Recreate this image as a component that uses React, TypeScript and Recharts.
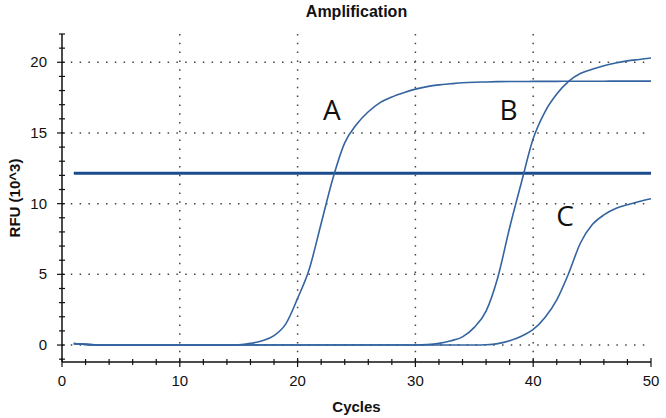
import { LineChart, Line, XAxis, YAxis, CartesianGrid, ReferenceLine, ReferenceDot, Label } from 'recharts';

const cycles = [
  1, 2, 3, 4, 5, 6, 7, 8, 9, 10, 11, 12, 13, 14, 15, 16, 17, 18, 19, 20, 21, 22, 23, 24, 25,
  26, 27, 28, 29, 30, 31, 32, 33, 34, 35, 36, 37, 38, 39, 40, 41, 42, 43, 44, 45, 46, 47, 48, 49, 50,
];

const curveA = [
  0.1, 0.05, 0, 0, 0, 0, 0, 0, 0, 0, 0, 0, 0, 0, 0.02, 0.12, 0.3, 0.66, 1.5, 3.3, 5.4, 8.6, 11.8, 14.3, 15.6,
  16.5, 17.15, 17.55, 17.85, 18.1, 18.28, 18.4, 18.48, 18.55, 18.59, 18.61, 18.63, 18.64, 18.64, 18.65, 18.65, 18.65, 18.66, 18.66, 18.66, 18.66, 18.67, 18.67, 18.67, 18.67,
];

const curveB = [
  0.1, 0.05, 0, 0, 0, 0, 0, 0, 0, 0, 0, 0, 0, 0, 0, 0, 0, 0, 0, 0, 0, 0, 0, 0, 0,
  0, 0, 0, 0, 0, 0.03, 0.12, 0.3, 0.58, 1.25, 2.4, 4.8, 8.3, 11.5, 14.6, 16.5, 17.75, 18.65, 19.2, 19.5, 19.75, 19.95, 20.1, 20.2, 20.3,
];

const curveC = [
  0.1, 0.05, 0, 0, 0, 0, 0, 0, 0, 0, 0, 0, 0, 0, 0, 0, 0, 0, 0, 0, 0, 0, 0, 0, 0,
  0, 0, 0, 0, 0, 0, 0, 0, 0, 0, 0.02, 0.1, 0.3, 0.62, 1.1, 1.95, 3.2, 5.05, 7.2, 8.5, 9.2, 9.65, 9.92, 10.15, 10.35,
];

const threshold = 12.15;

const xMajor = [0, 10, 20, 30, 40, 50];
const xTicks = [0, 2, 4, 6, 8, 10, 12, 14, 16, 18, 20, 22, 24, 26, 28, 30, 32, 34, 36, 38, 40, 42, 44, 46, 48, 50];
const yMajor = [0, 5, 10, 15, 20];
const yTicks = [-1, 0, 1, 2, 3, 4, 5, 6, 7, 8, 9, 10, 11, 12, 13, 14, 15, 16, 17, 18, 19, 20, 21, 22];

const curveLabels = [
  { name: 'A', cycle: 22.9, rfu: 16.6 },
  { name: 'B', cycle: 37.9, rfu: 16.6 },
  { name: 'C', cycle: 42.7, rfu: 9.1 },
];

const data = cycles.map((c, i) => ({ cycle: c, a: curveA[i], b: curveB[i], c: curveC[i] }));

const tickFont = "'Liberation Sans Narrow', 'Liberation Sans', Arial, sans-serif";
const axisColor = '#111';
const curveColor = '#3464a0';

const BottomTick = (props: any) => {
  const { x, y, payload } = props;
  const major = xMajor.includes(payload.value);
  return (
    <g>
      <line x1={x} x2={x} y1={y - (major ? 4 : 3)} y2={y + (major ? 5 : 3)} stroke={axisColor} strokeWidth={1.2} />
      {major && (
        <text x={x} y={y + 24} textAnchor="middle" fontSize={15} fontFamily={tickFont} fill="#111">
          {payload.value}
        </text>
      )}
    </g>
  );
};

const LeftTick = (props: any) => {
  const { x, y, payload } = props;
  const major = yMajor.includes(payload.value);
  return (
    <g>
      <line x1={x - (major ? 5 : 3)} x2={x + 3} y1={y} y2={y} stroke={axisColor} strokeWidth={1.2} />
      {major && (
        <text x={x - 15} y={y + 5} textAnchor="end" fontSize={15} fontFamily={tickFont} fill="#111">
          {payload.value}
        </text>
      )}
    </g>
  );
};

const TopTick = (props: any) => {
  const { x, y } = props;
  return <line x1={x} x2={x} y1={y} y2={y + 3} stroke={axisColor} strokeWidth={1.2} />;
};

const RightTick = (props: any) => {
  const { x, y } = props;
  return <line x1={x - 3} x2={x} y1={y} y2={y} stroke={axisColor} strokeWidth={1.2} />;
};

export default function App() {
  return (
    <div style={{ position: 'absolute', left: 0, top: 0, width: 666, height: 418, background: '#fff' }}>
      <div
        style={{
          position: 'absolute',
          left: 62,
          width: 589,
          top: 3,
          textAlign: 'center',
          fontFamily: tickFont,
          fontWeight: 'bold',
          fontSize: 16,
          color: '#111',
        }}
      >
        Amplification
      </div>
      <LineChart width={666} height={418} data={data} margin={{ top: 34, right: 15, bottom: 0, left: 0 }}>
        <CartesianGrid
          horizontal={true}
          vertical={true}
          verticalValues={[10, 20, 30, 40]}
          horizontalValues={yMajor}
          stroke="#444"
          strokeWidth={1.5}
          strokeDasharray="1.5 7.3"
        />
        <XAxis
          dataKey="cycle"
          type="number"
          domain={[0, 50]}
          ticks={xTicks}
          interval={0}
          allowDataOverflow
          height={56}
          tickSize={0}
          tickMargin={0}
          tickLine={false}
          tick={<BottomTick />}
          axisLine={{ stroke: axisColor, strokeWidth: 1.5 }}
        >
          <Label value="Cycles" position="insideBottom" offset={6} style={{ fontWeight: 'bold', fontSize: 15, fontFamily: tickFont, fill: '#111' }} />
        </XAxis>
        <XAxis
          xAxisId="top"
          orientation="top"
          dataKey="cycle"
          type="number"
          domain={[0, 50]}
          ticks={xTicks}
          interval={0}
          height={0}
          tickSize={0}
          tickMargin={0}
          tickLine={false}
          tick={<TopTick />}
          axisLine={{ stroke: axisColor, strokeWidth: 1.5 }}
        />
        <YAxis
          type="number"
          domain={[-1.2, 22]}
          ticks={yTicks}
          interval={0}
          allowDataOverflow
          width={62}
          tickSize={0}
          tickMargin={0}
          tickLine={false}
          tick={<LeftTick />}
          axisLine={{ stroke: axisColor, strokeWidth: 1.5 }}
        >
          <Label
            value="RFU (10^3)"
            angle={-90}
            position="insideLeft"
            offset={15}
            style={{ textAnchor: 'middle', fontWeight: 'bold', fontSize: 15, fontFamily: tickFont, fill: '#111' }}
          />
        </YAxis>
        <YAxis
          yAxisId="right"
          orientation="right"
          type="number"
          domain={[-1.2, 22]}
          ticks={yTicks}
          interval={0}
          width={0}
          tickSize={0}
          tickMargin={0}
          tickLine={false}
          tick={<RightTick />}
          axisLine={{ stroke: axisColor, strokeWidth: 1.5 }}
        />
        <ReferenceLine
          segment={[{ x: 1, y: threshold }, { x: 50, y: threshold }]}
          stroke="#1b4b8c"
          strokeWidth={3}
        />
        <Line type="monotone" dataKey="a" stroke={curveColor} strokeWidth={1.6} dot={false} isAnimationActive={false} />
        <Line type="monotone" dataKey="b" stroke={curveColor} strokeWidth={1.6} dot={false} isAnimationActive={false} />
        <Line type="monotone" dataKey="c" stroke={curveColor} strokeWidth={1.6} dot={false} isAnimationActive={false} />
        {curveLabels.map((l) => (
          <ReferenceDot
            key={l.name}
            x={l.cycle}
            y={l.rfu}
            r={0}
            fill="none"
            stroke="none"
            label={{ value: l.name, position: 'center', fontSize: 28, fontFamily: "'Open Sans', sans-serif", fill: '#111' }}
          />
        ))}
      </LineChart>
    </div>
  );
}
